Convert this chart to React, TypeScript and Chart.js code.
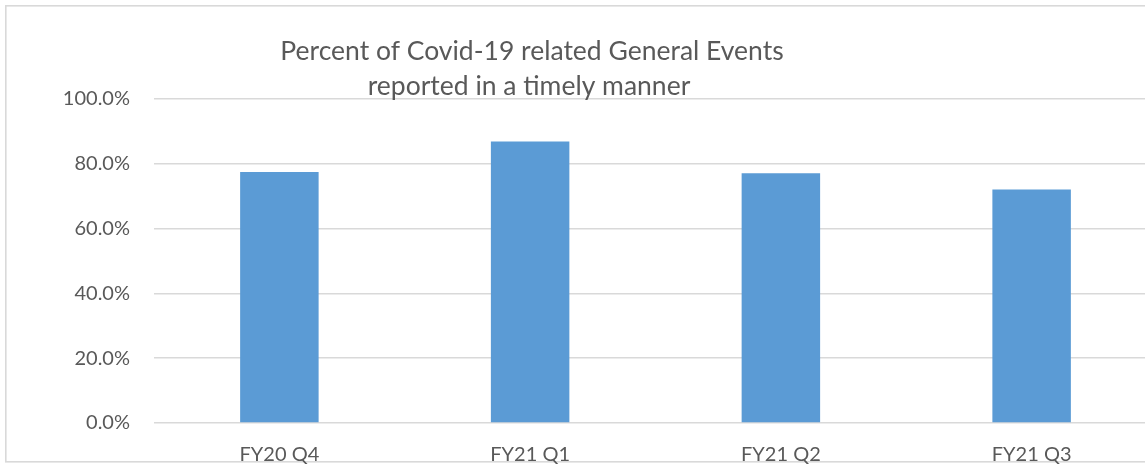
import React, { useEffect, useRef } from 'react';
import { Chart, registerables } from 'chart.js';

Chart.register(...registerables);

const categories = ['FY20 Q4', 'FY21 Q1', 'FY21 Q2', 'FY21 Q3'];
const values = [0.775, 0.869, 0.771, 0.721];
const titleLines = ['Percent of Covid-19 related General Events', 'reported in a timely manner'];

const FONT = 'Lato, "Open Sans", sans-serif';
const TEXT = '#595959';

const framePlugin = {
  id: 'frame',
  beforeDraw(chart: any) {
    const ctx = chart.ctx;
    ctx.save();
    ctx.fillStyle = '#ffffff';
    ctx.fillRect(0, 0, chart.width, chart.height);
    ctx.strokeStyle = '#d9d9d9';
    ctx.lineWidth = 1.6;
    ctx.strokeRect(5.8, 5.8, chart.width + 20, 456);
    ctx.restore();
  },
};

const titlePlugin = {
  id: 'customTitle',
  afterDraw(chart: any) {
    const ctx = chart.ctx;
    ctx.save();
    ctx.fillStyle = TEXT;
    ctx.font = `26.5px ${FONT}`;
    ctx.textAlign = 'center';
    ctx.textBaseline = 'alphabetic';
    ctx.fillText(titleLines[0], 532, 60);
    ctx.fillText(titleLines[1], 529, 95);
    ctx.restore();
  },
};

export default function App() {
  const ref = useRef<HTMLCanvasElement>(null);
  useEffect(() => {
    const chart = new Chart(ref.current!, {
      type: 'bar',
      data: {
        labels: categories,
        datasets: [
          {
            data: values,
            backgroundColor: '#5B9BD5',
            barPercentage: 1,
            categoryPercentage: 0.313,
          },
        ],
      },
      options: {
        animation: false,
        responsive: false,
        devicePixelRatio: 1,
        layout: { padding: { top: 99, bottom: 0, left: 0, right: 3 } },
        plugins: {
          legend: { display: false },
          tooltip: { enabled: false },
          title: { display: false },
        },
        scales: {
          x: {
            grid: { display: false, drawTicks: false },
            border: { display: false },
            ticks: { color: TEXT, font: { family: FONT, size: 20 }, padding: 20, maxRotation: 0 },
            afterFit: (s: any) => {
              s.height = 41;
            },
          },
          y: {
            min: 0,
            max: 1,
            ticks: {
              stepSize: 0.2,
              color: TEXT,
              font: { family: FONT, size: 20 },
              padding: 24,
              callback: (v: any) => (Number(v) * 100).toFixed(1) + '%',
            },
            grid: { color: '#d9d9d9', lineWidth: 1.5, drawTicks: false },
            border: { display: false },
            afterFit: (s: any) => {
              s.width = 154;
            },
          },
        },
      },
      plugins: [framePlugin, titlePlugin],
    });
    return () => chart.destroy();
  }, []);
  return (
    <div style={{ position: 'absolute', left: 0, top: 0, width: 1145, height: 464, overflow: 'hidden', background: '#fff' }}>
      <canvas ref={ref} width={1160} height={464} style={{ display: 'block', width: 1160, height: 464 }} />
    </div>
  );
}
